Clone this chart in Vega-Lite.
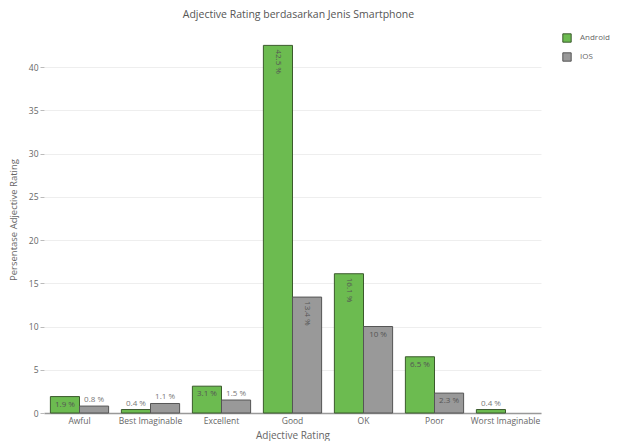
{
  "$schema": "https://vega.github.io/schema/vega-lite/v6.json",
  "width": 497,
  "height": 387,
  "autosize": {"type": "none"},
  "padding": {"left": 44, "top": 26, "right": 76, "bottom": 28},
  "background": "white",
  "config": {
    "font": "Open Sans",
    "view": {"stroke": null},
    "axis": {"labelColor": "#666", "titleColor": "#666", "titleFontWeight": "normal", "labelFont": "Open Sans", "titleFont": "Open Sans"}
  },
  "title": {
    "text": "Adjective Rating berdasarkan Jenis Smartphone",
    "fontSize": 10.5,
    "fontWeight": "normal",
    "color": "#555",
    "font": "Open Sans",
    "anchor": "middle",
    "offset": 6,
    "dx": 6
  },
  "data": {
    "values": [
      {"rating": "Awful", "os": "Android", "value": 1.9},
      {"rating": "Awful", "os": "IOS", "value": 0.8},
      {"rating": "Best Imaginable", "os": "Android", "value": 0.4},
      {"rating": "Best Imaginable", "os": "IOS", "value": 1.1},
      {"rating": "Excellent", "os": "Android", "value": 3.1},
      {"rating": "Excellent", "os": "IOS", "value": 1.5},
      {"rating": "Good", "os": "Android", "value": 42.5},
      {"rating": "Good", "os": "IOS", "value": 13.4},
      {"rating": "OK", "os": "Android", "value": 16.1},
      {"rating": "OK", "os": "IOS", "value": 10},
      {"rating": "Poor", "os": "Android", "value": 6.5},
      {"rating": "Poor", "os": "IOS", "value": 2.3},
      {"rating": "Worst Imaginable", "os": "Android", "value": 0.4}
    ]
  },
  "transform": [{"calculate": "datum.value + ' %'", "as": "label"}],
  "encoding": {
    "x": {
      "field": "rating",
      "type": "nominal",
      "sort": null,
      "scale": {"paddingInner": 0.18, "paddingOuter": 0.09},
      "axis": {
        "title": "Adjective Rating",
        "labelAngle": 0,
        "labelFontSize": 8.5,
        "titleFontSize": 10,
        "ticks": false,
        "labelPadding": 3,
        "titlePadding": 6,
        "domainColor": "#999",
        "domainWidth": 1.5,
        "grid": false
      }
    },
    "xOffset": {"field": "os", "type": "nominal", "scale": {"domain": ["Android", "IOS"]}},
    "y": {
      "field": "value",
      "type": "quantitative",
      "scale": {"domain": [0, 44.74], "nice": false},
      "axis": {
        "title": "Persentase Adjective Rating",
        "values": [0, 5, 10, 15, 20, 25, 30, 35, 40],
        "labelFontSize": 8.5,
        "titleFontSize": 9.5,
        "domain": false,
        "ticks": true,
        "tickSize": 4,
        "tickColor": "#bbb",
        "gridColor": "#eee",
        "labelPadding": 2,
        "titlePadding": 10
      }
    }
  },
  "layer": [
    {
      "mark": {"type": "bar", "strokeWidth": 1},
      "encoding": {
        "fill": {
          "field": "os",
          "type": "nominal",
          "scale": {"domain": ["Android", "IOS"], "range": ["#6cbb50", "#999999"]},
          "legend": {
            "title": null,
            "orient": "none",
            "legendX": 518,
            "legendY": 7,
            "symbolType": "square",
            "symbolSize": 70,
            "symbolStrokeWidth": 1,
            "labelFontSize": 8,
            "labelColor": "#666",
            "labelFont": "Open Sans",
            "rowPadding": 5,
            "labelOffset": 8
          }
        },
        "stroke": {
          "field": "os",
          "type": "nominal",
          "scale": {"domain": ["Android", "IOS"], "range": ["#3b5a2c", "#555555"]},
          "legend": {
            "title": null,
            "orient": "none",
            "legendX": 518,
            "legendY": 7,
            "symbolType": "square",
            "symbolSize": 70,
            "labelFontSize": 8,
            "labelColor": "#666",
            "rowPadding": 5,
            "labelOffset": 8
          }
        }
      }
    },
    {
      "transform": [{"filter": "datum.value < 1.8"}],
      "mark": {"type": "text", "baseline": "bottom", "dy": -2, "fontSize": 8, "color": "#777"},
      "encoding": {"text": {"field": "label"}}
    },
    {
      "transform": [{"filter": "datum.value >= 1.8 && datum.value < 12"}],
      "mark": {"type": "text", "baseline": "top", "dy": 4, "fontSize": 8, "color": "#555"},
      "encoding": {"text": {"field": "label"}}
    },
    {
      "transform": [{"filter": "datum.value >= 12"}],
      "mark": {"type": "text", "angle": 90, "align": "left", "baseline": "middle", "dx": 4, "fontSize": 8, "color": "#555"},
      "encoding": {"text": {"field": "label"}}
    }
  ]
}
